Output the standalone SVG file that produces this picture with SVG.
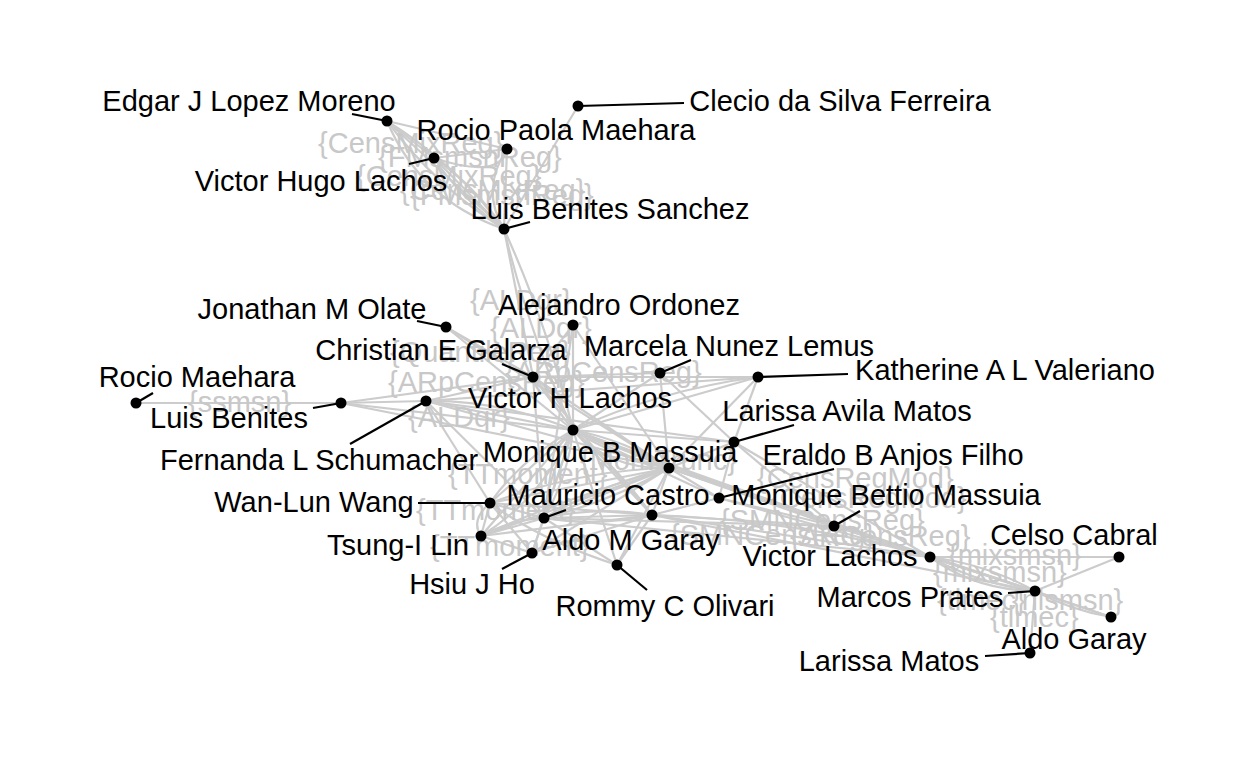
<svg xmlns="http://www.w3.org/2000/svg" width="1248" height="768" viewBox="0 0 1248 768">
<style>
.e{stroke:#cccccc;stroke-width:2.2;fill:none}
.el{font-family:"Liberation Sans",Arial,sans-serif;font-size:29px;fill:#c8c8c8}
.n{fill:#000}
.ld{stroke:#000;stroke-width:2.2}
.t{font-family:"Liberation Sans",Arial,sans-serif;font-size:29px;fill:#000;text-anchor:middle}
</style>
<rect width="1248" height="768" fill="#fff"/>
<g id="edges">
<line class="e" x1="387" y1="121" x2="504" y2="229"/>
<path class="e" d="M387 121 Q435 186 504 229"/>
<path class="e" d="M387 121 Q456 164 504 229"/>
<path class="e" d="M387 121 Q420 200 504 229"/>
<line class="e" x1="434" y1="158" x2="504" y2="229"/>
<path class="e" d="M434 158 Q462 200 504 229"/>
<path class="e" d="M434 158 Q476 187 504 229"/>
<line class="e" x1="507" y1="149" x2="504" y2="229"/>
<path class="e" d="M507 149 Q480 190 504 229"/>
<line class="e" x1="578" y1="106" x2="504" y2="229"/>
<line class="e" x1="387" y1="121" x2="434" y2="158"/>
<line class="e" x1="434" y1="158" x2="507" y2="149"/>
<line class="e" x1="387" y1="121" x2="507" y2="149"/>
<path class="e" d="M434 158 Q500 180 507 149"/>
<path class="e" d="M504 229 Q529 333 573 430"/>
<path class="e" d="M504 229 Q548 326 573 430"/>
<line class="e" x1="504" y1="229" x2="533" y2="377"/>
<line class="e" x1="136" y1="403" x2="341" y2="403"/>
<line class="e" x1="341" y1="403" x2="573" y2="430"/>
<line class="e" x1="341" y1="403" x2="533" y2="377"/>
<line class="e" x1="341" y1="403" x2="669" y2="468"/>
<line class="e" x1="341" y1="403" x2="426" y2="401"/>
<line class="e" x1="426" y1="401" x2="573" y2="430"/>
<path class="e" d="M426 401 Q500 400 573 430"/>
<line class="e" x1="426" y1="401" x2="669" y2="468"/>
<line class="e" x1="426" y1="401" x2="544" y2="518"/>
<line class="e" x1="426" y1="401" x2="533" y2="377"/>
<line class="e" x1="426" y1="401" x2="734" y2="442"/>
<line class="e" x1="426" y1="401" x2="490" y2="503"/>
<line class="e" x1="446" y1="327" x2="573" y2="430"/>
<line class="e" x1="446" y1="327" x2="533" y2="377"/>
<line class="e" x1="446" y1="327" x2="669" y2="468"/>
<line class="e" x1="573" y1="325" x2="573" y2="430"/>
<line class="e" x1="573" y1="325" x2="533" y2="377"/>
<line class="e" x1="573" y1="325" x2="669" y2="468"/>
<line class="e" x1="573" y1="325" x2="544" y2="518"/>
<line class="e" x1="533" y1="377" x2="573" y2="430"/>
<path class="e" d="M533 377 Q560 395 573 430"/>
<line class="e" x1="533" y1="377" x2="669" y2="468"/>
<line class="e" x1="533" y1="377" x2="660" y2="373"/>
<line class="e" x1="533" y1="377" x2="652" y2="515"/>
<line class="e" x1="533" y1="377" x2="544" y2="518"/>
<line class="e" x1="660" y1="373" x2="573" y2="430"/>
<line class="e" x1="660" y1="373" x2="669" y2="468"/>
<line class="e" x1="660" y1="373" x2="734" y2="442"/>
<line class="e" x1="758" y1="377" x2="573" y2="430"/>
<path class="e" d="M758 377 Q660 390 573 430"/>
<line class="e" x1="758" y1="377" x2="734" y2="442"/>
<line class="e" x1="758" y1="377" x2="669" y2="468"/>
<line class="e" x1="758" y1="377" x2="533" y2="377"/>
<line class="e" x1="758" y1="377" x2="426" y2="401"/>
<line class="e" x1="573" y1="430" x2="669" y2="468"/>
<path class="e" d="M573 430 Q617 458 669 468"/>
<path class="e" d="M573 430 Q625 440 669 468"/>
<path class="e" d="M573 430 Q610 470 669 468"/>
<line class="e" x1="573" y1="430" x2="544" y2="518"/>
<path class="e" d="M573 430 Q568 477 544 518"/>
<path class="e" d="M573 430 Q549 471 544 518"/>
<line class="e" x1="573" y1="430" x2="652" y2="515"/>
<path class="e" d="M573 430 Q620 470 652 515"/>
<line class="e" x1="573" y1="430" x2="490" y2="503"/>
<path class="e" d="M573 430 Q520 460 490 503"/>
<line class="e" x1="573" y1="430" x2="481" y2="536"/>
<path class="e" d="M573 430 Q540 500 481 536"/>
<line class="e" x1="573" y1="430" x2="532" y2="553"/>
<line class="e" x1="573" y1="430" x2="617" y2="565"/>
<line class="e" x1="573" y1="430" x2="734" y2="442"/>
<line class="e" x1="573" y1="430" x2="719" y2="498"/>
<line class="e" x1="573" y1="430" x2="834" y2="526"/>
<line class="e" x1="573" y1="430" x2="930" y2="557"/>
<line class="e" x1="669" y1="468" x2="544" y2="518"/>
<path class="e" d="M669 468 Q610 502 544 518"/>
<path class="e" d="M669 468 Q603 484 544 518"/>
<line class="e" x1="669" y1="468" x2="652" y2="515"/>
<line class="e" x1="669" y1="468" x2="490" y2="503"/>
<path class="e" d="M669 468 Q580 470 490 503"/>
<line class="e" x1="669" y1="468" x2="481" y2="536"/>
<line class="e" x1="669" y1="468" x2="532" y2="553"/>
<line class="e" x1="669" y1="468" x2="719" y2="498"/>
<line class="e" x1="669" y1="468" x2="734" y2="442"/>
<line class="e" x1="669" y1="468" x2="930" y2="557"/>
<line class="e" x1="669" y1="468" x2="834" y2="526"/>
<line class="e" x1="669" y1="468" x2="1035" y2="591"/>
<line class="e" x1="669" y1="468" x2="617" y2="565"/>
<line class="e" x1="544" y1="518" x2="490" y2="503"/>
<line class="e" x1="544" y1="518" x2="481" y2="536"/>
<path class="e" d="M544 518 Q510 520 481 536"/>
<line class="e" x1="544" y1="518" x2="532" y2="553"/>
<line class="e" x1="544" y1="518" x2="652" y2="515"/>
<path class="e" d="M544 518 Q598 527 652 515"/>
<path class="e" d="M544 518 Q598 506 652 515"/>
<line class="e" x1="544" y1="518" x2="617" y2="565"/>
<line class="e" x1="544" y1="518" x2="930" y2="557"/>
<line class="e" x1="544" y1="518" x2="834" y2="526"/>
<line class="e" x1="490" y1="503" x2="481" y2="536"/>
<path class="e" d="M490 503 Q470 520 481 536"/>
<line class="e" x1="490" y1="503" x2="532" y2="553"/>
<line class="e" x1="481" y1="536" x2="532" y2="553"/>
<line class="e" x1="490" y1="503" x2="652" y2="515"/>
<line class="e" x1="481" y1="536" x2="652" y2="515"/>
<path class="e" d="M481 536 Q560 500 669 468"/>
<path class="e" d="M490 503 Q540 540 617 565"/>
<line class="e" x1="652" y1="515" x2="617" y2="565"/>
<line class="e" x1="652" y1="515" x2="719" y2="498"/>
<line class="e" x1="652" y1="515" x2="930" y2="557"/>
<path class="e" d="M652 515 Q800 520 930 557"/>
<line class="e" x1="652" y1="515" x2="834" y2="526"/>
<line class="e" x1="652" y1="515" x2="532" y2="553"/>
<line class="e" x1="652" y1="515" x2="1035" y2="591"/>
<line class="e" x1="734" y1="442" x2="930" y2="557"/>
<line class="e" x1="734" y1="442" x2="719" y2="498"/>
<line class="e" x1="734" y1="442" x2="834" y2="526"/>
<line class="e" x1="719" y1="498" x2="834" y2="526"/>
<line class="e" x1="719" y1="498" x2="930" y2="557"/>
<line class="e" x1="834" y1="526" x2="930" y2="557"/>
<line class="e" x1="834" y1="526" x2="1035" y2="591"/>
<line class="e" x1="930" y1="557" x2="1119" y2="557"/>
<line class="e" x1="930" y1="557" x2="1035" y2="591"/>
<path class="e" d="M930 557 Q979 584 1035 591"/>
<path class="e" d="M930 557 Q986 564 1035 591"/>
<path class="e" d="M930 557 Q975 590 1035 591"/>
<line class="e" x1="930" y1="557" x2="1111" y2="617"/>
<line class="e" x1="1035" y1="591" x2="1119" y2="557"/>
<line class="e" x1="1035" y1="591" x2="1111" y2="617"/>
<path class="e" d="M1035 591 Q1070 610 1111 617"/>
<line class="e" x1="1035" y1="591" x2="1030" y2="653"/>
</g>
<g id="edge-labels">
<text class="el" x="318" y="153">{CensMixReg}</text>
<text class="el" x="378" y="167">{FMsmsnReg}</text>
<text class="el" x="356" y="186">{CensMixReg}</text>
<text class="el" x="400" y="200">{CensMixReg}</text>
<text class="el" x="410" y="205">{FMsmsnReg}</text>
<text class="el" x="470" y="310">{ALDqr}</text>
<text class="el" x="490" y="338">{ALDqr}</text>
<text class="el" x="390" y="362">{QuantileReg}</text>
<text class="el" x="505" y="382">{ARpCensReg}</text>
<text class="el" x="188" y="412">{ssmsn}</text>
<text class="el" x="388" y="392">{ARpCensReg}</text>
<text class="el" x="408" y="427">{ALDqr}</text>
<text class="el" x="448" y="484">{TTmoment}</text>
<text class="el" x="416" y="520">{TTmoment}</text>
<text class="el" x="430" y="556">{TTmoment}</text>
<text class="el" x="580" y="470">{MomTrunc}</text>
<text class="el" x="757" y="488">{CensRegMod}</text>
<text class="el" x="770" y="508">{CensRegMod}</text>
<text class="el" x="720" y="530">{SMNCensReg}</text>
<text class="el" x="670" y="545">{SMNCensReg}</text>
<text class="el" x="790" y="546">{ARCensReg}</text>
<text class="el" x="948" y="565">{mixsmsn}</text>
<text class="el" x="933" y="582">{mixsmsn}</text>
<text class="el" x="937" y="610">{tlmec}</text>
<text class="el" x="1012" y="610">{nlsmsn}</text>
<text class="el" x="990" y="627">{tlmec}</text>
</g>
<g id="node-edgar"><line class="ld" x1="387" y1="121" x2="352" y2="114"/><circle class="n" cx="387" cy="121" r="5.5"/><text class="t" x="249" y="111">Edgar J Lopez Moreno</text></g>
<g id="node-clecio"><line class="ld" x1="578" y1="106" x2="684" y2="103"/><circle class="n" cx="578" cy="106" r="5.5"/><text class="t" x="840" y="111">Clecio da Silva Ferreira</text></g>
<g id="node-rocio-paola"><circle class="n" cx="507" cy="149" r="5.5"/><text class="t" x="556" y="140">Rocio Paola Maehara</text></g>
<g id="node-victor-hugo"><line class="ld" x1="434" y1="158" x2="409" y2="164"/><circle class="n" cx="434" cy="158" r="5.5"/><text class="t" x="321" y="191">Victor Hugo Lachos</text></g>
<g id="node-luis-benites-sanchez"><line class="ld" x1="504" y1="229" x2="530" y2="222"/><circle class="n" cx="504" cy="229" r="5.5"/><text class="t" x="610" y="219">Luis Benites Sanchez</text></g>
<g id="node-alejandro"><circle class="n" cx="573" cy="325" r="5.5"/><text class="t" x="619" y="315">Alejandro Ordonez</text></g>
<g id="node-jonathan"><line class="ld" x1="446" y1="327" x2="417" y2="321"/><circle class="n" cx="446" cy="327" r="5.5"/><text class="t" x="312" y="319">Jonathan M Olate</text></g>
<g id="node-christian"><line class="ld" x1="533" y1="377" x2="502" y2="364"/><circle class="n" cx="533" cy="377" r="5.5"/><text class="t" x="441" y="360">Christian E Galarza</text></g>
<g id="node-marcela"><line class="ld" x1="660" y1="373" x2="691" y2="360"/><circle class="n" cx="660" cy="373" r="5.5"/><text class="t" x="729" y="356">Marcela Nunez Lemus</text></g>
<g id="node-katherine"><line class="ld" x1="758" y1="377" x2="848" y2="374"/><circle class="n" cx="758" cy="377" r="5.5"/><text class="t" x="1005" y="380">Katherine A L Valeriano</text></g>
<g id="node-rocio-maehara"><line class="ld" x1="136" y1="403" x2="153" y2="393"/><circle class="n" cx="136" cy="403" r="5.5"/><text class="t" x="197" y="387">Rocio Maehara</text></g>
<g id="node-luis-benites"><line class="ld" x1="341" y1="403" x2="313" y2="408"/><circle class="n" cx="341" cy="403" r="5.5"/><text class="t" x="229" y="428">Luis Benites</text></g>
<g id="node-fernanda"><line class="ld" x1="426" y1="401" x2="350" y2="444"/><circle class="n" cx="426" cy="401" r="5.5"/><text class="t" x="319" y="470">Fernanda L Schumacher</text></g>
<g id="node-victor-h-lachos"><circle class="n" cx="573" cy="430" r="5.5"/><text class="t" x="570" y="408">Victor H Lachos</text></g>
<g id="node-larissa-avila"><line class="ld" x1="734" y1="442" x2="794" y2="425"/><circle class="n" cx="734" cy="442" r="5.5"/><text class="t" x="847" y="421">Larissa Avila Matos</text></g>
<g id="node-monique-b"><circle class="n" cx="669" cy="468" r="5.5"/><text class="t" x="610" y="462">Monique B Massuia</text></g>
<g id="node-eraldo"><line class="ld" x1="719" y1="498" x2="834" y2="469"/><circle class="n" cx="719" cy="498" r="5.5"/><text class="t" x="893" y="465">Eraldo B Anjos Filho</text></g>
<g id="node-monique-bettio"><line class="ld" x1="834" y1="526" x2="860" y2="511"/><circle class="n" cx="834" cy="526" r="5.5"/><text class="t" x="886" y="505">Monique Bettio Massuia</text></g>
<g id="node-mauricio"><line class="ld" x1="544" y1="518" x2="566" y2="510"/><circle class="n" cx="544" cy="518" r="5.5"/><text class="t" x="608" y="505">Mauricio Castro</text></g>
<g id="node-wan-lun"><line class="ld" x1="490" y1="503" x2="418" y2="503"/><circle class="n" cx="490" cy="503" r="5.5"/><text class="t" x="314" y="512">Wan-Lun Wang</text></g>
<g id="node-tsung-i"><circle class="n" cx="481" cy="536" r="5.5"/><text class="t" x="398" y="555">Tsung-I Lin</text></g>
<g id="node-aldo-m"><circle class="n" cx="652" cy="515" r="5.5"/><text class="t" x="631" y="550">Aldo M Garay</text></g>
<g id="node-hsiu"><line class="ld" x1="532" y1="553" x2="502" y2="569"/><circle class="n" cx="532" cy="553" r="5.5"/><text class="t" x="472" y="594">Hsiu J Ho</text></g>
<g id="node-rommy"><line class="ld" x1="617" y1="565" x2="647" y2="590"/><circle class="n" cx="617" cy="565" r="5.5"/><text class="t" x="665" y="616">Rommy C Olivari</text></g>
<g id="node-victor-lachos"><circle class="n" cx="930" cy="557" r="5.5"/><text class="t" x="830" y="566">Victor Lachos</text></g>
<g id="node-celso"><circle class="n" cx="1119" cy="557" r="5.5"/><text class="t" x="1074" y="545">Celso Cabral</text></g>
<g id="node-marcos"><line class="ld" x1="1035" y1="591" x2="1008" y2="593"/><circle class="n" cx="1035" cy="591" r="5.5"/><text class="t" x="910" y="607">Marcos Prates</text></g>
<g id="node-aldo-garay"><circle class="n" cx="1111" cy="617" r="5.5"/><text class="t" x="1074" y="649">Aldo Garay</text></g>
<g id="node-larissa-matos"><line class="ld" x1="1030" y1="653" x2="985" y2="656"/><circle class="n" cx="1030" cy="653" r="5.5"/><text class="t" x="889" y="671">Larissa Matos</text></g>
</svg>
